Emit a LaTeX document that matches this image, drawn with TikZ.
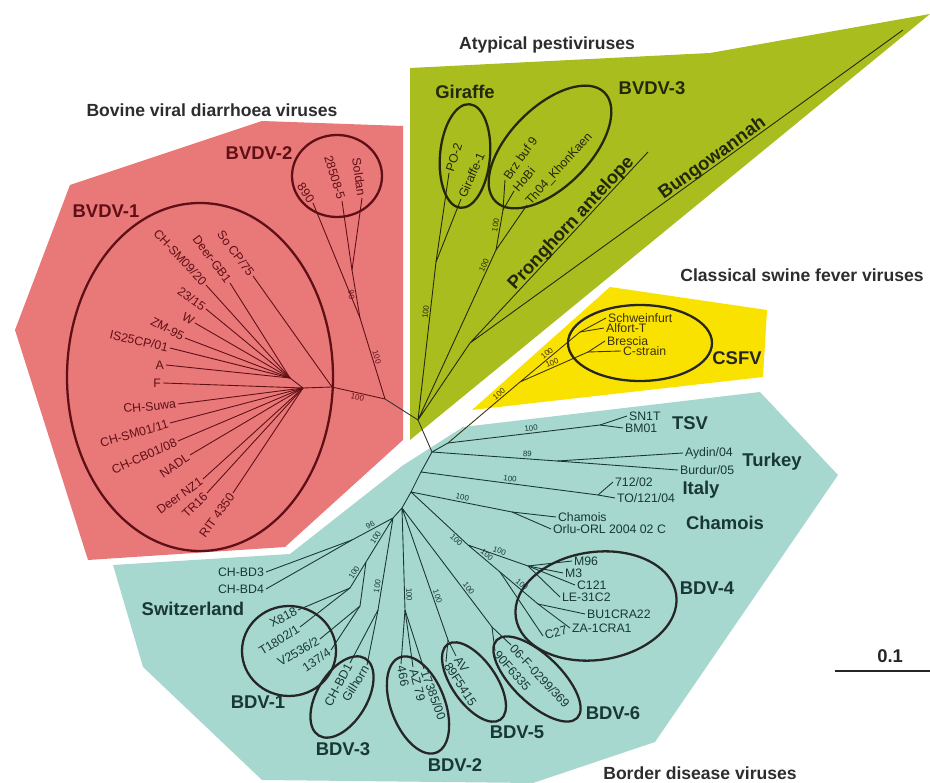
\documentclass[tikz,border=0pt]{standalone}
\usepackage{fontspec}
\setmainfont{Liberation Sans}
\usepackage{tikz}

\definecolor{bvdfill}{RGB}{233,120,121}
\definecolor{atyfill}{RGB}{170,189,30}
\definecolor{csffill}{RGB}{250,226,0}
\definecolor{bdfill}{RGB}{166,216,208}
\definecolor{bvdink}{RGB}{95,15,22}
\definecolor{atyink}{RGB}{35,40,10}
\definecolor{csfink}{RGB}{60,50,10}
\definecolor{bdink}{RGB}{25,55,52}
\definecolor{ttlink}{RGB}{45,45,45}

\tikzset{
  tree/.style={line width=0.5pt},
  leaf/.style={font=\fontsize{7}{8}\selectfont, inner sep=1pt},
  boot/.style={font=\fontsize{4.5}{5}\selectfont, sloped, inner sep=0.8pt},
  grp/.style={font=\bfseries\fontsize{10.5}{12}\selectfont, inner sep=0pt},
  ttl/.style={font=\bfseries\fontsize{10}{12}\selectfont, text=ttlink, inner sep=0pt},
  clade/.style={line width=1.3pt},
}

\begin{document}
\begin{tikzpicture}[x=0.02cm, y=-0.02cm]
  \useasboundingbox (0,0) rectangle (930,783);

  % clade areas
  \fill[bvdfill] (70,185) -- (262,121) -- (403,126) -- (403,440) -- (285,547)
        -- (88,560) -- (15,330) -- cycle;
  \fill[atyfill] (410,68) -- (710,53) -- (930,14) -- (410,440) -- cycle;
  \fill[csffill] (610,287) -- (767,310) -- (763,377) -- (472,410) -- cycle;
  \fill[bdfill] (113,565) -- (290,554) -- (402,466) -- (463,427) -- (760,392)
        -- (838,475) -- (655,742) -- (533,783) -- (262,780) -- (143,667) -- cycle;

  % inner nodes of the tree
  \coordinate (r0) at (418,420);
  \coordinate (b0) at (385,399);
  \coordinate (b1a) at (332,387);
  \coordinate (b1) at (303,388);
  \coordinate (b1u) at (290,378);
  \coordinate (n2) at (360,318);
  \coordinate (n2b) at (352,270);
  \coordinate (g) at (436,262);
  \coordinate (n3) at (496,250);
  \coordinate (n3a) at (503,210);
  \coordinate (na) at (470,343);
  \coordinate (ph) at (648,152);
  \coordinate (bw) at (903,30);
  \coordinate (t0) at (432,452);
  \coordinate (t1) at (448,443);
  \coordinate (t2) at (421,472);
  \coordinate (t3) at (411,492);
  \coordinate (t4) at (402,508);
  \coordinate (t5) at (393,518);
  \coordinate (c0) at (520,382);
  \coordinate (ca) at (580,332);
  \coordinate (cb) at (588,352);
  \coordinate (sn) at (600,425);
  \coordinate (tn) at (557,461);
  \coordinate (itn) at (598,495);
  \coordinate (cn) at (512,512);
  \coordinate (b4n) at (468,545);
  \coordinate (b4a) at (528,566);
  \coordinate (b4b) at (500,572);
  \coordinate (b4c) at (538,604);
  \coordinate (b6n) at (492,627);
  \coordinate (b5n) at (448,640);
  \coordinate (b2n) at (405,610);
  \coordinate (b3n) at (378,610);
  \coordinate (b1x) at (366,562);
  \coordinate (b1y) at (350,588);
  \coordinate (b1z) at (360,606);
  \coordinate (chn) at (352,540);

  % branches
  \draw[tree, black!80] (r0) -- (b0) (r0) -- (t0);
  \draw[tree, bvdink] (b0) -- node[boot, below] {100} (b1a)
        (b1a) -- (b1) (b1) -- (b1u)
        (b0) -- node[boot, above] {100} (n2)
        (n2) -- node[boot, below] {90} (n2b);
  \draw[tree, atyink] (r0) -- node[boot, above, pos=.68] {100} (g)
        (r0) -- node[boot, above, pos=.9] {100} (n3)
        (n3) -- node[boot, above, pos=.6] {100} (n3a)
        (r0) -- (na)
        (na) -- node[grp, text=atyink, sloped, above=-1pt, pos=.6] (lph) {Pronghorn antelope} (ph)
        (na) -- node[grp, text=atyink, sloped, above=-1pt, pos=.57] (lbw) {Bungowannah} (bw);
  \draw[tree, csfink] (t1) -- node[boot, above, pos=.75] {100} (c0)
        (c0) -- node[boot, above] {100} (ca)
        (c0) -- node[boot, above] {100} (cb);
  \draw[tree, bdink] (t0) -- (t1)
        (t1) -- node[boot, above, pos=.55] {100} (sn)
        (t0) -- node[boot, above, pos=.76] {89} (tn)
        (t0) -- (t2) -- (t3) -- (t4) -- (t5)
        (t2) -- node[boot, above] {100} (itn)
        (t3) -- node[boot, above] {100} (cn)
        (t3) -- node[boot, below, pos=.85] {100} (b4n)
        (b4n) -- node[boot, above] {100} (b4a)
        (b4n) -- node[boot, above] {100} (b4b)
        (b4b) -- node[boot, above] {100} (b4c)
        (t4) -- node[boot, above, pos=.7] {100} (b6n)
        (t4) -- node[boot, above, pos=.68] {100} (b5n)
        (t4) -- node[boot, above, pos=.85] {100} (b2n)
        (t5) -- node[boot, above, pos=.75] {100} (b3n)
        (t5) -- node[boot, above] {100} (b1x)
        (b1x) -- node[boot, above] {100} (b1y)
        (b1x) -- (b1z)
        (t5) -- node[boot, above] {96} (chn);

  % leaves
  \foreach \hub/\px/\py/\ang/\txt [count=\i] in {
      b1a/253/276/-53/{So CP/75}, b1u/230/283/-53/{Deer-GB1},
      b1u/206/285/-47/{CH-SM09/20}, b1u/206/309/-35/{23/15},
      b1u/195/323/-30/{W}, b1u/185/338/-28/{ZM-95},
      b1u/170/348/-13/{IS25CP/01}, b1u/166/365/0/{A},
      b1/163/383/0/{F}, b1/178/404/5/{CH-Suwa},
      b1/170/423/16/{CH-SM01/11}, b1/178/441/24/{CH-CB01/08},
      b1/190/455/34/{NADL}, b1/203/479/36/{Deer NZ1},
      b1/207/493/45/{TR16}, b1/233/493/54/{RIT 4350},
      n2/313/203/-55/{890}, n2b/342/201/-73/{28508-5},
      n2b/362/198/-82/{Soldan}}{
    \coordinate (bvd-\i) at (\px,\py);
    \draw[tree, bvdink] (\hub) -- (bvd-\i);
    \node[leaf, text=bvdink, rotate=\ang, anchor=east] (lbvd-\i) at (bvd-\i) {\txt};
  }
  \foreach \hub/\px/\py/\ang/\txt [count=\i] in {
      g/449/173/72/{PO-2}, g/461/199/66/{Giraffe-1},
      n3a/505/180/55/{Brz buf 9}, n3a/514/191/50/{HoBi},
      n3/527/205/48/{Th04\_KhonKaen}}{
    \coordinate (aty-\i) at (\px,\py);
    \draw[tree, atyink] (\hub) -- (aty-\i);
    \node[leaf, text=atyink, rotate=\ang, anchor=west] (laty-\i) at (aty-\i) {\txt};
  }
  \foreach \hub/\px/\py/\txt [count=\i] in {
      ca/606/318/{Schweinfurt}, ca/604/328/{Alfort-T},
      cb/605/341/{Brescia}, cb/621/351/{C-strain}}{
    \coordinate (csf-\i) at (\px,\py);
    \draw[tree, csfink] (\hub) -- (csf-\i);
    \node[leaf, text=csfink, anchor=west] (lcsf-\i) at (csf-\i) {\txt};
  }
  \foreach \hub/\px/\py/\ang/\txt [count=\i] in {
      sn/627/416/0/{SN1T}, sn/623/428/0/{BM01},
      tn/683/453/0/{Aydin/04}, tn/678/470/0/{Burdur/05},
      itn/613/482/0/{712/02}, itn/615/498/0/{TO/121/04},
      cn/556/517/0/{Chamois}, cn/551/529/0/{Orlu-ORL 2004 02 C},
      b4a/572/561/0/{M96}, b4a/563/573/0/{M3},
      b4a/575/585/0/{C121}, b4a/560/597/0/{LE-31C2},
      b4c/585/614/0/{BU1CRA22}, b4c/570/628/0/{ZA-1CRA1},
      b4b/543/636/15/{C27},
      b6n/511/645/-47/{06-F-0299/369}, b6n/495/651/-49/{90F6335},
      b5n/456/656/-55/{AV}, b5n/446/662/-57/{89F5415},
      b2n/401/664/-80/{466}, b2n/413/667/-76/{AZ 79},
      b2n/424/669/-70/{17385/00}}{
    \coordinate (bd-\i) at (\px,\py);
    \draw[tree, bdink] (\hub) -- (bd-\i);
    \node[leaf, text=bdink, rotate=\ang, anchor=west] (lbd-\i) at (bd-\i) {\txt};
  }
  \foreach \hub/\px/\py/\ang/\txt [count=\i] in {
      b3n/350/663/62/{CH-BD1}, b3n/367/665/58/{Gilhorn},
      b1y/298/610/27/{X818}, b1y/300/627/32/{T1802/1},
      b1z/320/639/30/{V2536/2}, b1z/331/650/34/{137/4},
      chn/266/572/0/{CH-BD3}, chn/266/589/0/{CH-BD4}}{
    \coordinate (bde-\i) at (\px,\py);
    \draw[tree, bdink] (\hub) -- (bde-\i);
    \node[leaf, text=bdink, rotate=\ang, anchor=east] (lbde-\i) at (bde-\i) {\txt};
  }

  % clade rings
  \draw[clade, bvdink] (200,377) ellipse (133 and 174);
  \draw[clade, bvdink] (337,176) ellipse (45 and 41);
  \draw[clade, atyink, rotate around={85:(465,156)}] (465,156) ellipse (52 and 25);
  \draw[clade, atyink, rotate around={45:(550,147)}] (550,147) ellipse (77 and 40);
  \draw[clade, black!85] (640,343) ellipse (72 and 38);
  \draw[clade, black!85, rotate around={8:(596,606)}] (596,606) ellipse (81 and 54);
  \draw[clade, black!85, rotate around={-44:(537,679)}] (537,679) ellipse (56 and 24);
  \draw[clade, black!85, rotate around={-55:(474,682)}] (474,682) ellipse (46 and 22);
  \draw[clade, black!85, rotate around={-69:(418,705)}] (418,705) ellipse (51 and 27);
  \draw[clade, black!85, rotate around={59:(342,697)}] (342,697) ellipse (45 and 25);
  \draw[clade, black!85] (289,651) ellipse (47 and 45);

  % group names
  \node[ttl] (tbvd) at (212,110) {Bovine viral diarrhoea viruses};
  \node[ttl] (taty) at (547,45) {Atypical pestiviruses};
  \node[ttl] (tcsf) at (802,275) {Classical swine fever viruses};
  \node[ttl] (tbd) at (700,773) {Border disease viruses};

  \node[grp, text=bvdink] (gbvdv2) at (259,153) {BVDV-2};
  \node[grp, text=bvdink] (gbvdv1) at (106,211) {BVDV-1};
  \node[grp, text=atyink] (ggir) at (465,92) {Giraffe};
  \node[grp, text=atyink] (gbvdv3) at (652,88) {BVDV-3};
  \node[grp, text=black!85] (gcsfv) at (737,358) {CSFV};
  \node[grp, text=bdink] (gtsv) at (690,423) {TSV};
  \node[grp, text=bdink] (gtur) at (772,462) {Turkey};
  \node[grp, text=bdink] (gita) at (701,490) {Italy};
  \node[grp, text=bdink] (gcha) at (725,523) {Chamois};
  \node[grp, text=bdink] (gbdv4) at (707,588) {BDV-4};
  \node[grp, text=bdink] (gbdv6) at (613,713) {BDV-6};
  \node[grp, text=bdink] (gbdv5) at (517,732) {BDV-5};
  \node[grp, text=bdink] (gbdv2) at (455,765) {BDV-2};
  \node[grp, text=bdink] (gbdv3) at (343,749) {BDV-3};
  \node[grp, text=bdink] (gbdv1) at (258,702) {BDV-1};
  \node[grp, text=bdink] (gswi) at (193,609) {Switzerland};

  % scale bar
  \coordinate (sb1) at (835,671);
  \coordinate (sb2) at (930,671);
  \draw[line width=1.2pt, black!85] (sb1) -- node[grp, pos=.58, above=4pt] (lsb) {0.1} (sb2);
\end{tikzpicture}
\end{document}
